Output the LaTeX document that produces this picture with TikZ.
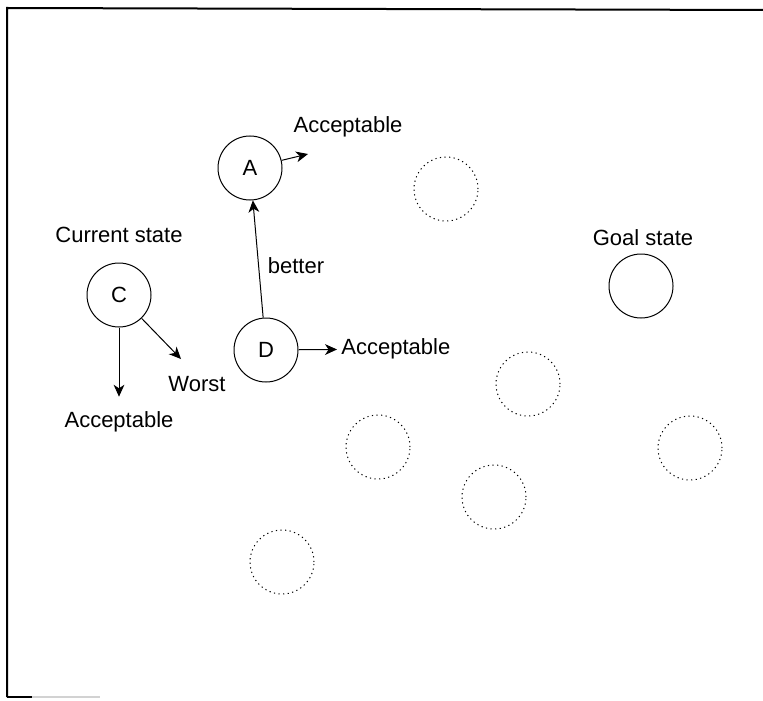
\documentclass[tikz,border=0pt]{standalone}
\usepackage{fontspec}
\setmainfont{Liberation Sans}
\usepackage{tikz}
\usetikzlibrary{arrows.meta}
\usetikzlibrary{positioning}

\begin{document}
\begin{tikzpicture}[x=0.5pt,y=-0.5pt,
        state/.style={draw,circle,minimum size=32pt,inner sep=0pt,line width=0.5pt},
        ghost/.style={state,dash pattern=on 0.6pt off 1.7pt},
        every node/.style={font=\fontsize{11}{13}\selectfont},
        >={Stealth[length=6pt,width=5.4pt,inset=1.8pt]}]
        \useasboundingbox (0,0) rectangle (763,700);
        % frame
        \draw[line width=1pt] (7,697) -- (7,8) -- (763,10);
        \draw[line width=1pt] (7,697) -- (32,697);
        \draw[line width=1pt,gray!35] (32,697) -- (100,697);

        % states
        \node[state] (c) at (119,295) {C};
        \node[state] (a) at (250,168) {A};
        \node[state] (d) at (266,350) {D};
        \node[state] (goal) at (641,286) {};
        \foreach \x/\y [count=\i] in {446/189, 528/384, 690/448, 378/447, 494/497, 282/562}
            \node[ghost] (s\i) at (\x,\y) {};

        % labels
        \node (curlbl) at (119,235) {Current state};
        \node (goallbl) at (643,238) {Goal state};
        \node (aacc) at (348,127) {Acceptable};
        \node[anchor=west,inner sep=2pt] (dacc) at (337,349) {Acceptable};
        \node (cacc) at (119,422) {Acceptable};
        \node (worst) at (197,384) {Worst};
        \node (better) at (296,266) {better};
        \coordinate (atip) at (308,154);
        \coordinate (wtip) at (181,359);

        % moves
        \draw[->,line width=0.5pt] (a) -- (atip);
        \draw[->,line width=0.5pt] (d) -- (a);
        \draw[->,line width=0.5pt] (d) -- (dacc);
        \draw[->,line width=0.5pt,shorten >=4pt] (c.south) -- (cacc);
        \draw[->,line width=0.5pt] (c) -- (wtip);
    \end{tikzpicture}
\end{document}
